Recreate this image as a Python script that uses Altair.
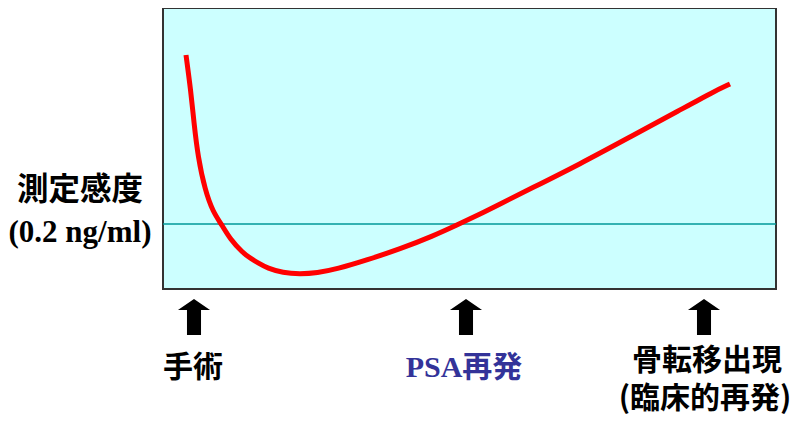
import altair as alt
import pandas as pd

# PSA curve (x: time, y: PSA level)
curve_x = [23, 27.7, 31, 35, 42, 50, 59, 67, 80, 87, 97, 104, 120, 137, 154, 174,
           204, 237, 270, 294, 317, 337, 367, 417, 467, 517, 550, 567]
curve_y = [234, 199, 166, 132, 99, 77, 64, 50, 36, 31, 25, 21, 16, 15, 16, 20,
           29, 40, 53, 64, 75, 85, 100, 125, 152, 179, 197, 205]

threshold = [65]  # 測定感度 (0.2 ng/ml)

# events under the plot
event_x = [31, 303, 541]
label_texts = ["手術", "PSA再発", "骨転移出現", "(臨床的再発)"]
label_x = [30, 301, 544, 542]
label_py = [360, 360, 353, 391]
label_colors = ["#000000", "#333399", "#000000", "#000000"]
label_fonts = ["Noto Sans CJK JP", "Liberation Serif, Noto Sans CJK JP",
               "Noto Sans CJK JP", "Noto Sans CJK JP"]
label_sizes = [30, 30, 30, 30]

ylab_texts = ["測定感度", "(0.2 ng/ml)"]
ylab_fonts = ["Noto Sans CJK JP", "Liberation Serif"]
ylab_sizes = [31.5, 31]
ylab_py = [183, 225]

W, H = 613, 281
xs = alt.Scale(domain=[0, W])
ys = alt.Scale(domain=[0, H])

curve_df = pd.DataFrame({"x": curve_x, "y": curve_y})
curve = alt.Chart(curve_df).mark_line(
    color="#FF0000", strokeWidth=5, interpolate="basis"
).encode(
    x=alt.X("x:Q", scale=xs, axis=None),
    y=alt.Y("y:Q", scale=ys, axis=None),
)

rule = alt.Chart(pd.DataFrame({"y": threshold})).mark_rule(
    color="#009999", strokeWidth=1.5
).encode(y=alt.Y("y:Q", scale=ys, axis=None))

arrow_path = "M0,-1 L0.89,-0.39 L0.39,-0.39 L0.39,1 L-0.39,1 L-0.39,-0.39 L-0.89,-0.39 Z"
arrows = alt.Chart(pd.DataFrame({"x": event_x})).mark_point(
    shape=arrow_path, size=1296, filled=True, color="#000000", opacity=1, strokeWidth=0
).encode(
    x=alt.X("x:Q", scale=xs, axis=None),
    y=alt.value(309),
)

label_layers = []
for t, x, py, c, f, s in zip(label_texts, label_x, label_py, label_colors, label_fonts, label_sizes):
    label_layers.append(
        alt.Chart(pd.DataFrame({"t": [t], "x": [x]})).mark_text(
            font=f, fontSize=s, fontWeight="bold", color=c, baseline="middle", align="center"
        ).encode(
            x=alt.X("x:Q", scale=xs, axis=None),
            y=alt.value(py),
            text="t:N",
        )
    )

for t, py, f, s in zip(ylab_texts, ylab_py, ylab_fonts, ylab_sizes):
    label_layers.append(
        alt.Chart(pd.DataFrame({"t": [t]})).mark_text(
            font=f, fontSize=s, fontWeight="bold", color="#000000", baseline="middle", align="center"
        ).encode(
            x=alt.value(-83),
            y=alt.value(py),
            text="t:N",
        )
    )

chart = alt.layer(rule, curve, arrows, *label_layers).properties(
    width=W, height=H,
    padding={"left": 155, "top": 0, "right": 14, "bottom": 126},
    autosize="none",
).configure_view(
    fill="#CCFFFF", stroke="#333333", strokeWidth=2
)

chart.save("out.html", embed_options={"renderer": "svg", "actions": False})
